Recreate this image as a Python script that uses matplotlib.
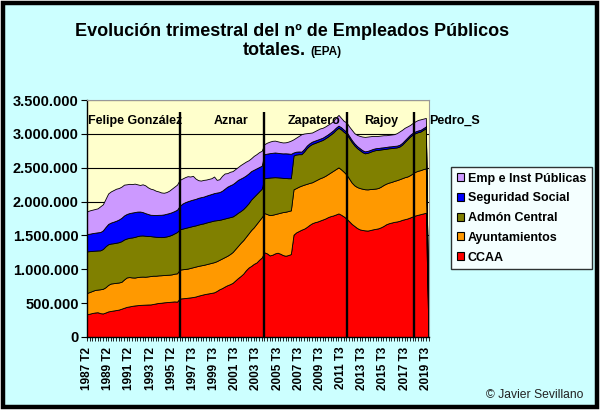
import matplotlib
matplotlib.use('Agg')
import matplotlib.pyplot as plt
from matplotlib.patches import Patch, Rectangle

plt.rcParams['font.family'] = ['Liberation Sans', 'DejaVu Sans']

# trimestres 1987 T2 .. 2019 T4 (no hay 1996 T1; 2019 T4 vacio)
quarters = []
for year in range(1987, 2020):
    for q in range(1, 5):
        lab = f'{year} T{q}'
        if (year == 1987 and q == 1) or lab == '1996 T1':
            continue
        quarters.append(lab)

# miles de empleados
ccaa = [335, 345, 355, 362, 366, 352, 348, 362,
        378, 385, 392, 398, 405, 418, 432, 445,
        452, 460, 466, 470, 474, 476, 478, 480,
        481, 488, 496, 503, 506, 512, 515, 518,
        522, 526, 522, 568, 572, 575, 580, 585,
        590, 598, 610, 620, 630, 638, 645, 652,
        660, 680, 705, 722, 745, 765, 780, 800,
        835, 870, 900, 935, 985, 1025, 1050, 1080,
        1100, 1140, 1175, 1250, 1235, 1205, 1215, 1235,
        1245, 1230, 1210, 1200, 1210, 1225, 1510, 1545,
        1565, 1585, 1600, 1625, 1655, 1680, 1695, 1705,
        1720, 1735, 1750, 1770, 1785, 1795, 1810, 1825,
        1805, 1780, 1750, 1710, 1670, 1640, 1610, 1590,
        1580, 1575, 1572, 1580, 1590, 1597, 1605, 1620,
        1640, 1665, 1680, 1690, 1700, 1706, 1715, 1730,
        1740, 1750, 1765, 1780, 1795, 1805, 1815, 1825, 1835, 0]
ayunt = [315, 320, 325, 333, 334, 353, 364, 373,
         392, 405, 403, 402, 400, 397, 418, 435,
         433, 420, 412, 415, 416, 416, 412, 415,
         419, 417, 409, 407, 406, 403, 403, 402,
         403, 409, 418, 427, 428, 430, 430, 435,
         440, 442, 440, 438, 435, 437, 440, 443,
         445, 440, 435, 438, 435, 435, 445, 455,
         465, 475, 490, 495, 495, 505, 530, 540,
         570, 580, 595, 580, 580, 595, 590, 580,
         580, 605, 635, 650, 650, 645, 670, 655,
         655, 651, 650, 637, 620, 605, 610, 620,
         625, 625, 630, 635, 645, 660, 670, 680,
         670, 660, 650, 630, 610, 600, 605, 610,
         610, 607, 608, 605, 598, 595, 595, 600,
         605, 600, 600, 600, 605, 610, 615, 615,
         620, 620, 625, 635, 645, 650, 650, 655, 655, 0]
central = [615, 603, 592, 580, 578, 575, 588, 605,
           600, 590, 590, 592, 595, 600, 590, 575,
           580, 590, 600, 605, 608, 608, 605, 597,
           590, 580, 575, 568, 563, 563, 567, 575,
           585, 595, 610, 595, 600, 605, 610, 610,
           610, 608, 610, 612, 613, 615, 615, 615,
           615, 605, 590, 580, 570, 560, 545, 525,
           505, 490, 470, 460, 450, 445, 450, 450,
           440, 430, 420, 515, 535, 555, 553, 545,
           533, 520, 505, 498, 485, 475, 500, 495,
           480, 464, 490, 528, 550, 565, 560, 555,
           550, 550, 555, 555, 560, 565, 580, 585,
           590, 590, 600, 600, 600, 590, 575, 560,
           540, 531, 540, 550, 562, 568, 563, 550,
           530, 515, 507, 500, 490, 484, 482, 495,
           520, 550, 570, 575, 571, 570, 570, 580, 595, 0]
seg_social = [255, 258, 262, 265, 268, 270, 275, 285,
              300, 310, 318, 325, 335, 345, 355, 362,
              365, 368, 367, 362, 355, 345, 335, 325,
              315, 318, 322, 326, 330, 332, 335, 335,
              333, 330, 330, 345, 370, 380, 385, 388,
              390, 392, 395, 395, 395, 397, 400, 402,
              405, 408, 410, 420, 440, 460, 470, 478,
              482, 485, 480, 470, 455, 440, 420, 400,
              380, 360, 340, 355, 358, 360, 362, 365,
              362, 360, 362, 365, 365, 360, 45, 42,
              40, 38, 37, 36, 35, 35, 35, 34,
              34, 34, 33, 33, 33, 33, 32, 32,
              32, 32, 31, 31, 30, 30, 30, 29,
              29, 29, 29, 28, 28, 28, 28, 28,
              27, 27, 27, 27, 27, 26, 26, 26,
              26, 26, 26, 25, 25, 25, 25, 25, 25, 0]
empresas = [335, 344, 346, 350, 354, 380, 385, 415,
            450, 460, 467, 473, 465, 460, 455, 438,
            432, 420, 420, 403, 392, 410, 410, 393,
            385, 377, 358, 346, 330, 320, 320, 330,
            347, 360, 370, 385, 370, 370, 370, 352,
            350, 300, 261, 245, 247, 238, 235, 233,
            245, 187, 190, 220, 225, 200, 200, 192,
            193, 190, 200, 205, 205, 195, 190, 205,
            210, 220, 220, 148, 162, 170, 177, 175,
            170, 165, 161, 162, 175, 195, 195, 208,
            230, 257, 228, 184, 155, 135, 140, 146,
            151, 146, 142, 142, 137, 137, 148, 158,
            138, 128, 139, 139, 150, 150, 165, 181,
            201, 213, 211, 202, 192, 180, 179, 177,
            178, 173, 171, 173, 173, 184, 197, 194,
            184, 164, 145, 145, 149, 155, 155, 140, 125, 0]

series_names = ['CCAA', 'Ayuntamientos', 'Admón Central', 'Seguridad Social', 'Emp e Inst Públicas']
colors = ['#FF0000', '#FF9900', '#808000', '#0000FF', '#CC99FF']

# cambios de gobierno (posicion en el eje de trimestres)
gov_names = ['Felipe González', 'Aznar', 'Zapatero', 'Rajoy', 'Pedro_S']
gov_lines = [35.3, 67, 98.2, 123.7]
gov_text_x = [0.4, 54.4, 85.6, 111.3, 129.2]

yticks = [0, 500000, 1000000, 1500000, 2000000, 2500000, 3000000, 3500000]

x = list(range(len(quarters)))
data = [[v * 1000 for v in s] for s in [ccaa, ayunt, central, seg_social, empresas]]

fig = plt.figure(figsize=(6, 4.12), dpi=100, facecolor='white')
fig.patches.append(Rectangle((2.5 / 600, 5.5 / 412), 594.5 / 600, 404 / 412,
                             transform=fig.transFigure, facecolor='#CCFFFF',
                             edgecolor='black', linewidth=3.2, zorder=-1))

ax = fig.add_axes([87 / 600, 1 - 337 / 412, 341.5 / 600, 237 / 412])
ax.set_facecolor('#FFFFCC')
ax.stackplot(x, *data, colors=colors, edgecolor='black', linewidth=0.6)

ax.set_axisbelow(True)
ax.yaxis.grid(True, color='black', linewidth=0.8)
ax.set_xlim(0, len(quarters) - 1)
ax.set_ylim(0, 3500000)

ax.set_yticks(yticks)
ax.set_yticklabels([f'{v:,}'.replace(',', '.') for v in yticks], fontsize=10.5, fontweight='bold')
ax.tick_params(axis='y', length=4, width=0.8, pad=2)

ax.set_xticks(x)
ax.set_xticklabels([q if i % 8 == 0 else '' for i, q in enumerate(quarters)],
                   rotation=90, fontsize=8.5, fontweight='bold')
ax.tick_params(axis='x', length=3, width=0.6, pad=4)

for side in ['left', 'bottom']:
    ax.spines[side].set_color('black')
    ax.spines[side].set_linewidth(1)
for side in ['top', 'right']:
    ax.spines[side].set_color('#999999')
    ax.spines[side].set_linewidth(0.8)

ax.vlines(gov_lines, 0, 3330000, colors='black', linewidth=1.7, zorder=5)
for name, gx in zip(gov_names, gov_text_x):
    ha = 'left' if name in ('Felipe González', 'Pedro_S') else 'center'
    ax.text(gx, 3190000, name, ha=ha, va='center', fontsize=9, fontweight='bold', zorder=6)

handles = [Patch(facecolor=c, edgecolor='black', linewidth=0.8) for c in colors][::-1]
leg = fig.legend(handles, series_names[::-1], loc='upper left',
                 bbox_to_anchor=(451 / 600, 1 - 167 / 412),
                 prop={'size': 9, 'weight': 'bold'}, frameon=True, fancybox=False,
                 handlelength=0.6, handleheight=0.6, handletextpad=0.3,
                 labelspacing=0.62, borderpad=0.45, borderaxespad=0)
leg.get_frame().set_edgecolor('black')
leg.get_frame().set_linewidth(1)

fig.text(292 / 600, 1 - 36.5 / 412, 'Evolución trimestral del nº de Empleados Públicos',
         ha='center', va='baseline', fontsize=13, fontweight='bold')
fig.text(306 / 600, 1 - 55 / 412, 'totales.', ha='right', va='baseline',
         fontsize=13, fontweight='bold')
fig.text(310 / 600, 1 - 55 / 412, '(EPA)', ha='left', va='baseline',
         fontsize=8.5, fontweight='bold')
fig.text(583 / 600, 1 - 398 / 412, '© Javier Sevillano', ha='right', va='baseline',
         fontsize=8.7, color='#222222')

fig.savefig('out.png', dpi=100, facecolor=fig.get_facecolor())
